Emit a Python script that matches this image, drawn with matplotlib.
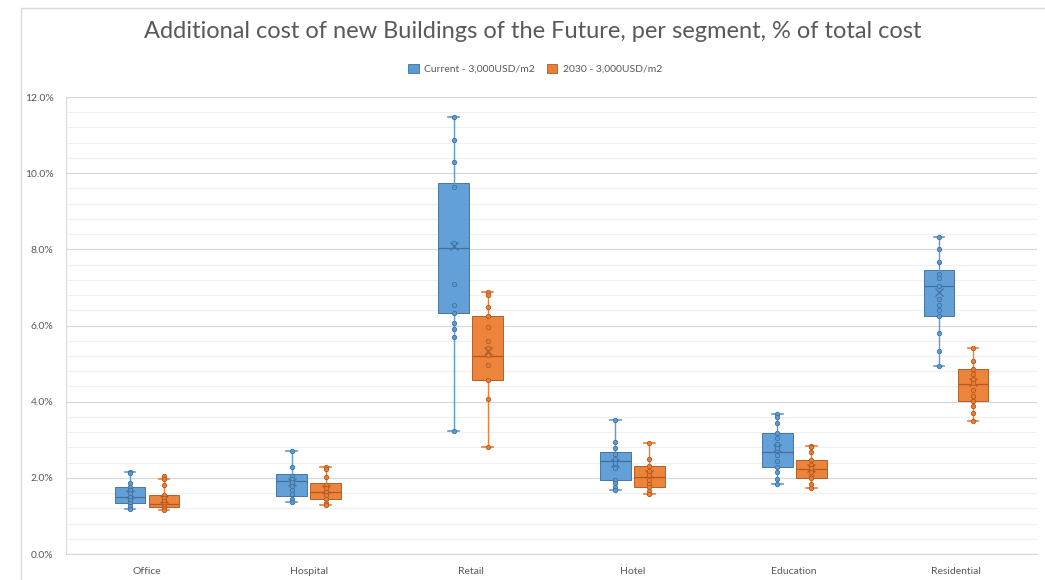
import matplotlib.pyplot as plt
from matplotlib.patches import Rectangle, Patch
from matplotlib.ticker import MultipleLocator, FuncFormatter

plt.rcParams['font.family'] = ['Lato', 'DejaVu Sans']

segments = ["Office", "Hospital", "Retail", "Hotel", "Education", "Residential"]
series_names = ["Current - 3,000USD/m2", "2030 - 3,000USD/m2"]

# box summaries per segment, values in % of total cost
cur_low = [1.19, 1.36, 3.24, 1.67, 1.85, 4.94]
cur_q1 = [1.35, 1.53, 6.32, 1.94, 2.29, 6.26]
cur_med = [1.50, 1.92, 8.04, 2.44, 2.69, 7.04]
cur_q3 = [1.75, 2.10, 9.73, 2.68, 3.19, 7.46]
cur_high = [2.16, 2.70, 11.48, 3.52, 3.68, 8.32]
cur_mean = [1.58, 1.88, 8.08, 2.40, 2.78, 6.89]

fut_low = [1.16, 1.28, 2.82, 1.57, 1.73, 3.49]
fut_q1 = [1.24, 1.45, 4.57, 1.75, 1.99, 4.03]
fut_med = [1.32, 1.63, 5.20, 2.02, 2.22, 4.46]
fut_q3 = [1.55, 1.87, 6.25, 2.32, 2.47, 4.85]
fut_high = [1.96, 2.29, 6.87, 2.91, 2.84, 5.42]
fut_mean = [1.45, 1.70, 5.33, 2.10, 2.25, 4.52]

# individual points per segment
cur_points = [
    [2.16, 2.12, 1.87, 1.75, 1.68, 1.60, 1.50, 1.42, 1.35, 1.27, 1.19],
    [2.70, 2.28, 2.05, 1.98, 1.88, 1.78, 1.68, 1.58, 1.45, 1.36],
    [11.48, 10.86, 10.29, 9.63, 8.16, 7.08, 6.55, 6.32, 6.06, 5.90, 5.71, 3.24],
    [3.52, 2.94, 2.79, 2.63, 2.50, 2.40, 2.27, 1.94, 1.87, 1.77, 1.67],
    [3.68, 3.61, 3.45, 3.19, 3.05, 2.90, 2.78, 2.60, 2.45, 2.29, 2.16, 1.97, 1.85],
    [8.32, 8.00, 7.68, 7.35, 7.25, 7.04, 6.70, 6.55, 6.40, 6.26, 5.81, 5.33, 4.94],
]
fut_points = [
    [2.06, 1.96, 1.82, 1.55, 1.48, 1.40, 1.32, 1.26, 1.20, 1.16],
    [2.29, 2.23, 2.01, 1.82, 1.72, 1.63, 1.55, 1.45, 1.35, 1.28],
    [6.87, 6.80, 6.48, 6.25, 5.97, 5.59, 5.40, 5.23, 4.96, 4.57, 4.06, 2.82],
    [2.91, 2.49, 2.30, 2.18, 2.08, 1.95, 1.85, 1.75, 1.65, 1.57],
    [2.84, 2.82, 2.69, 2.47, 2.35, 2.25, 2.15, 2.05, 1.99, 1.85, 1.73],
    [5.42, 5.07, 4.85, 4.72, 4.60, 4.50, 4.30, 4.15, 4.03, 3.89, 3.71, 3.49],
]

blue = "#5B9BD5"
blue_dark = "#41719C"
orange = "#ED7D31"
orange_dark = "#AE5A21"
grey = "#595959"

fig = plt.figure(figsize=(10.45, 5.8), dpi=100)
ax = fig.add_axes([66 / 1045, 1 - 554 / 580, (1037 - 66) / 1045, (554 - 97) / 580])

# chart area border
fig.patches.append(Rectangle((21 / 1045, -0.05), 1.1, 1 - 8 / 580 + 0.05,
                             transform=fig.transFigure, fill=False,
                             edgecolor="#D9D9D9", linewidth=1.0, zorder=0))

series = [
    (cur_low, cur_q1, cur_med, cur_q3, cur_high, cur_mean, cur_points, blue, blue_dark, -0.105),
    (fut_low, fut_q1, fut_med, fut_q3, fut_high, fut_mean, fut_points, orange, orange_dark, 0.105),
]

for low, q1, med, q3, high, mean, pts, col, dark, off in series:
    stats = []
    for i in range(len(segments)):
        stats.append(dict(whislo=low[i], q1=q1[i], med=med[i], q3=q3[i],
                          whishi=high[i], mean=mean[i], fliers=[]))
    pos = [i + off for i in range(len(segments))]
    ax.bxp(stats, positions=pos, widths=0.19, capwidths=0.065,
           patch_artist=True, showmeans=True, showfliers=False,
           boxprops=dict(facecolor=col, edgecolor=dark, linewidth=0.7, alpha=0.95),
           medianprops=dict(color=dark, linewidth=0.9),
           whiskerprops=dict(color=col, linewidth=1.0),
           capprops=dict(color=col, linewidth=1.2),
           meanprops=dict(marker="x", markeredgecolor=dark, markersize=6,
                          markeredgewidth=0.9),
           zorder=3)
    for i, p in enumerate(pts):
        ax.scatter([pos[i]] * len(p), p, s=10, facecolor=col, edgecolor=dark,
                   linewidth=0.6, zorder=4)

ax.set_xlim(-0.5, 5.5)
ax.set_ylim(0, 12)
ax.set_xticks(range(len(segments)))
ax.set_xticklabels(segments)
ax.yaxis.set_major_locator(MultipleLocator(2))
ax.yaxis.set_minor_locator(MultipleLocator(0.4))
ax.yaxis.set_major_formatter(FuncFormatter(lambda v, _: f"{v:.1f}%"))
ax.grid(True, which="major", axis="y", color="#D9D9D9", linewidth=0.9, zorder=0)
ax.grid(True, which="minor", axis="y", color="#F0F0F0", linewidth=0.9, zorder=0)
ax.set_axisbelow(True)
ax.tick_params(axis="both", which="both", length=0, labelsize=7.5, labelcolor=grey)
ax.tick_params(axis="y", pad=9)
ax.tick_params(axis="x", pad=9)
for s in ["top", "right"]:
    ax.spines[s].set_visible(False)
ax.spines["left"].set_color("#D9D9D9")
ax.spines["bottom"].set_color("#D9D9D9")

fig.text(533 / 1045, 1 - 32 / 580, "Additional cost of new Buildings of the Future, per segment, % of total cost",
         ha="center", va="center", fontsize=17, color=grey)

handles = [Patch(facecolor=blue, edgecolor=blue_dark, linewidth=0.6),
           Patch(facecolor=orange, edgecolor=orange_dark, linewidth=0.6)]
fig.legend(handles, series_names, loc="center", bbox_to_anchor=(535 / 1045, 1 - 69 / 580),
           ncol=2, frameon=False, fontsize=7.5, labelcolor=grey,
           handlelength=1.0, handleheight=1.0, handletextpad=0.5, columnspacing=1.2)

fig.savefig("out.png", dpi=100)
